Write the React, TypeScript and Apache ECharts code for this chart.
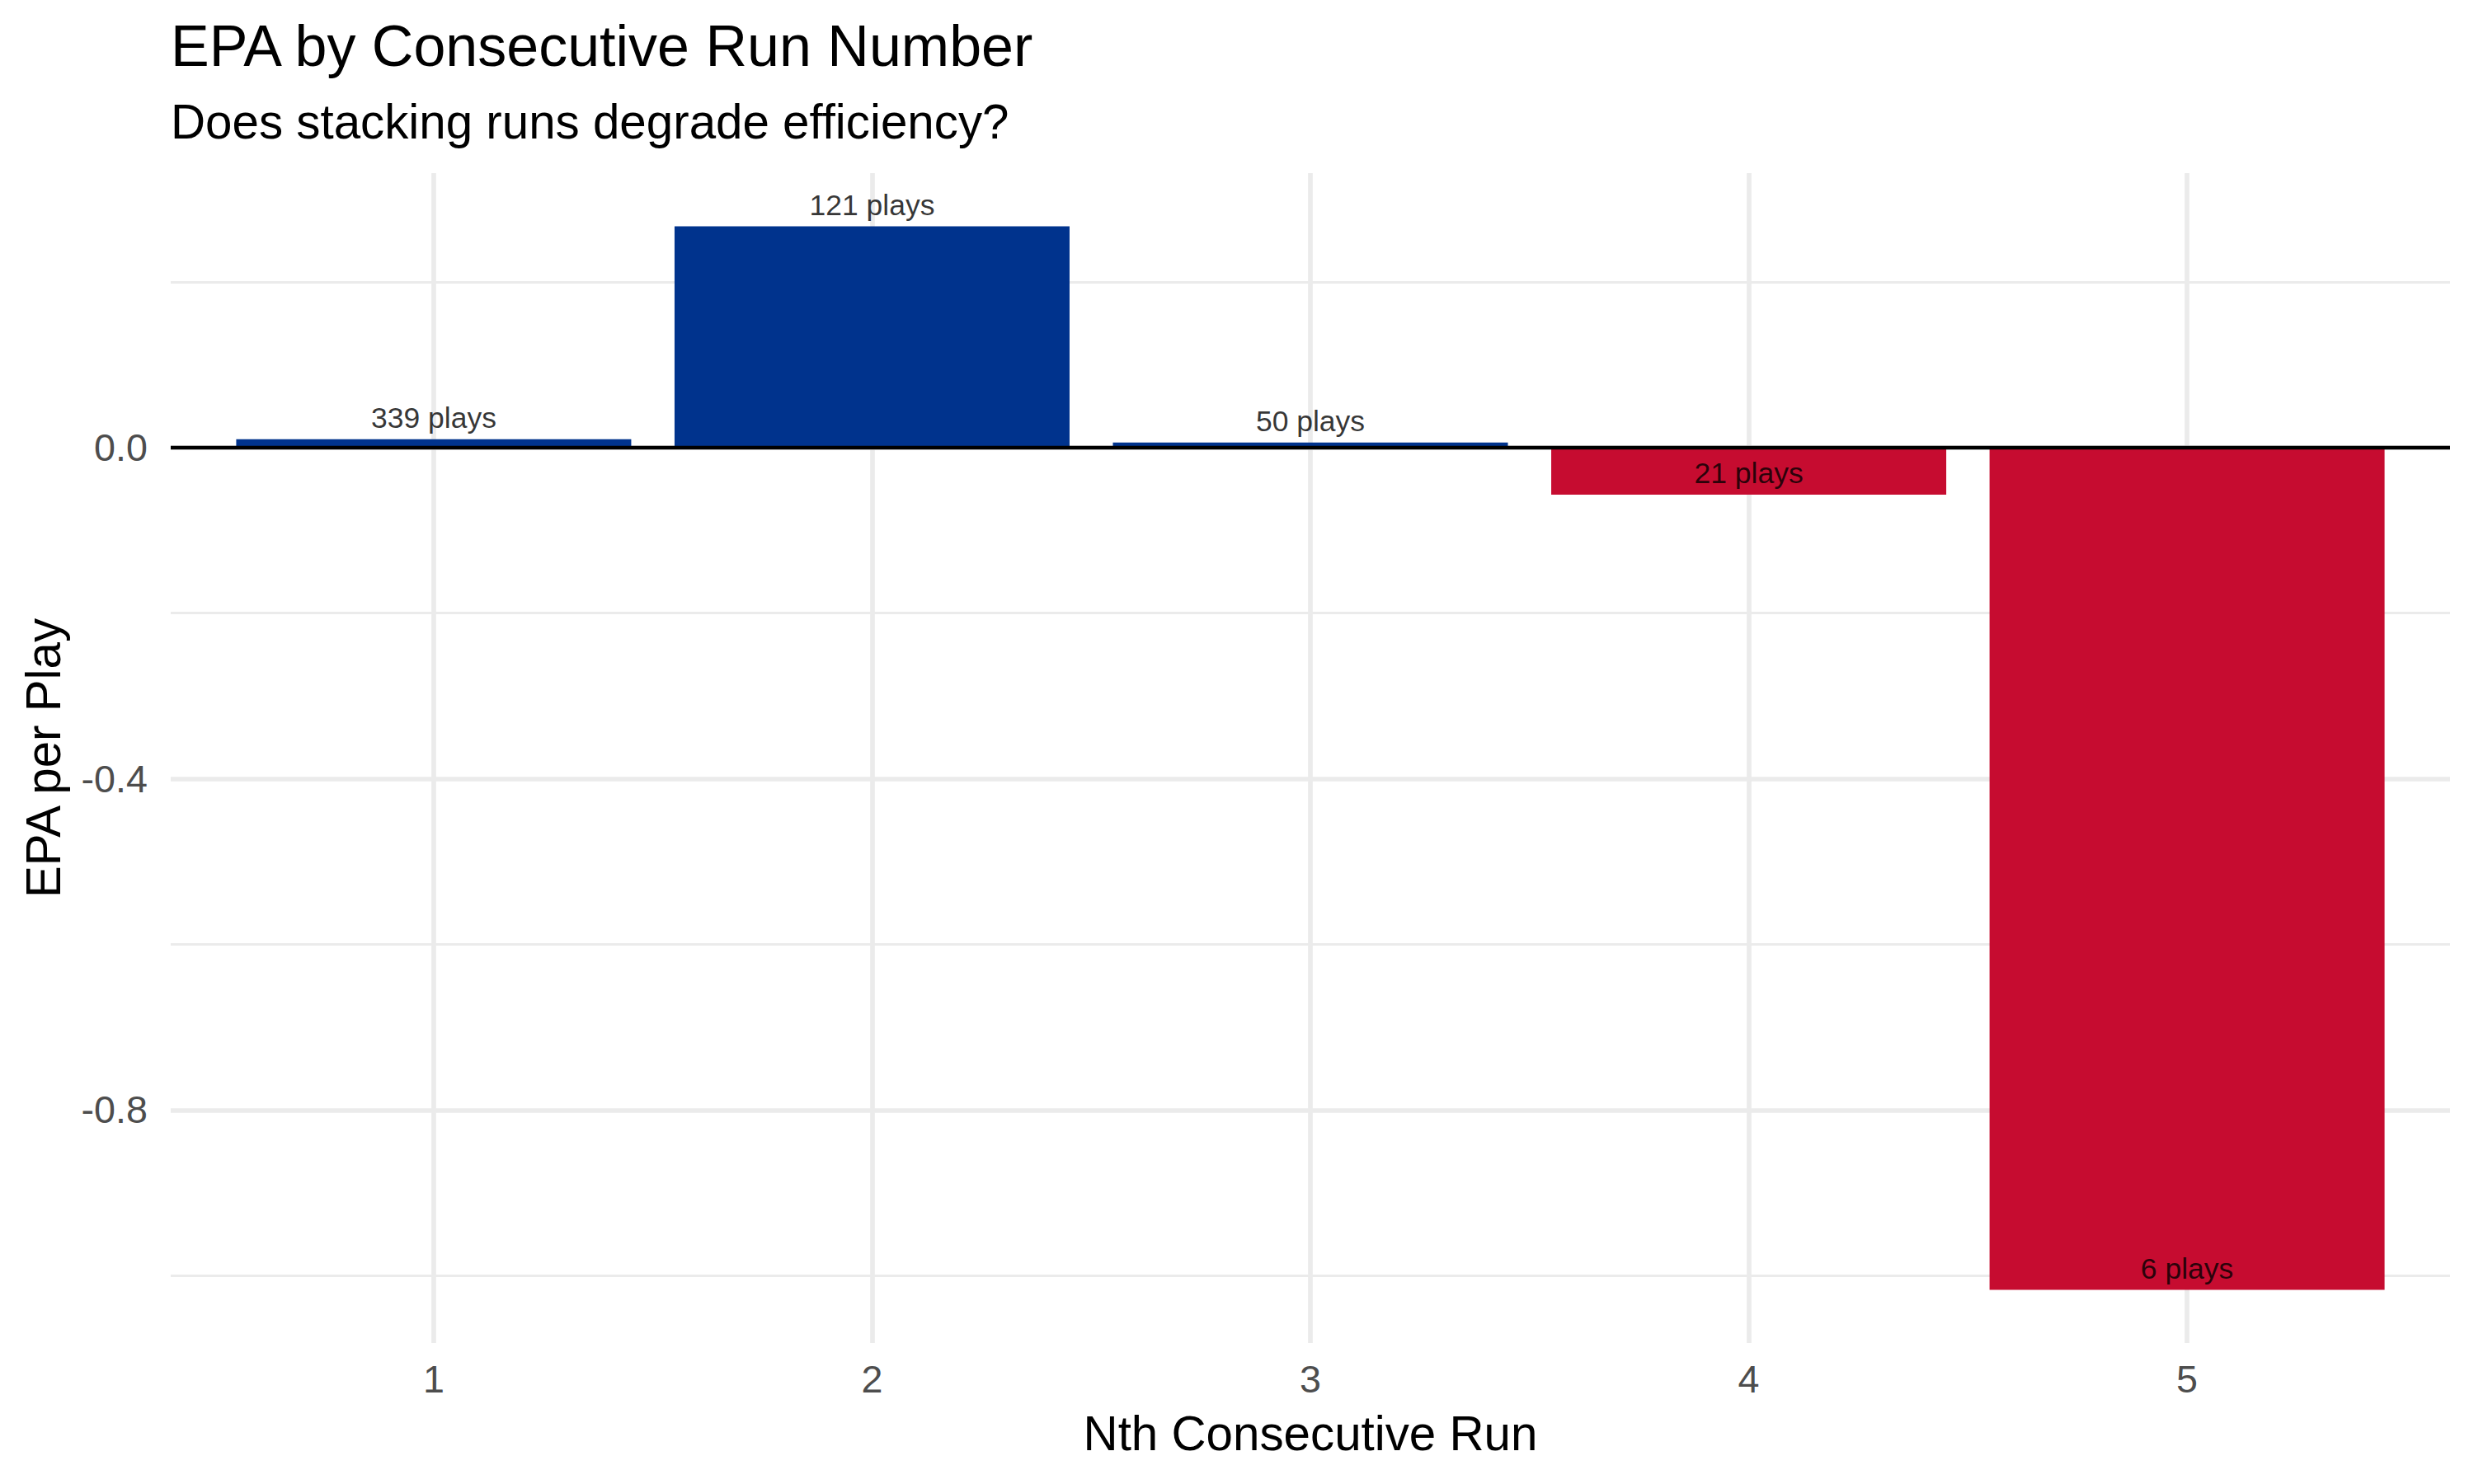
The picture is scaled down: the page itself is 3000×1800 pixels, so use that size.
import { useEffect, useRef } from 'react';
import * as echarts from 'echarts';

// Nth consecutive run, EPA per play, play counts
const runNumbers = [1, 2, 3, 4, 5];
const epaPerPlay = [0.010, 0.267, 0.006, -0.057, -1.017];
const playCounts = [339, 121, 50, 21, 6];
const yMajorTicks = [-0.8, -0.4, 0];
const yMinorTicks = [-1.0, -0.6, -0.2, 0.2];

const POS_COLOR = '#00338D';
const NEG_COLOR = '#C60C30';
const GRID_COLOR = '#EBEBEB';
const FONT = '"Liberation Sans", Arial, Helvetica, sans-serif';

export default function App() {
  const containerRef = useRef<HTMLDivElement>(null);

  useEffect(() => {
    if (!containerRef.current) return;
    const chart = echarts.init(containerRef.current, null, { renderer: 'svg' });

    // ggplot-style 5% expansion on continuous y, 0.6 on discrete x
    const lo = Math.min(0, ...epaPerPlay);
    const hi = Math.max(0, ...epaPerPlay);
    const pad = (hi - lo) * 0.05;
    const yMin = lo - pad;
    const yMax = hi + pad;

    const gridLeft = 207;
    const gridRight = 29;
    const gridTop = 210;
    const gridBottom = 171;
    const panelBottom = 1800 - gridBottom;
    const panelCx = (gridLeft + 3000 - gridRight) / 2;
    const panelCy = (gridTop + panelBottom) / 2;

    const option: echarts.EChartsOption = {
      backgroundColor: '#FFFFFF',
      animation: false,
      textStyle: { fontFamily: FONT },
      grid: { left: gridLeft, right: gridRight, top: gridTop, bottom: gridBottom, containLabel: false },
      xAxis: {
        type: 'value',
        min: 0.4,
        max: 5.6,
        axisLine: { show: false },
        axisTick: { show: false, customValues: runNumbers },
        axisLabel: {
          customValues: runNumbers,
          color: '#4D4D4D',
          fontSize: 46.7,
          fontFamily: FONT,
          margin: 20,
          formatter: (v: number) => String(v),
        },
        splitLine: { show: true, lineStyle: { color: GRID_COLOR, width: 5.7 } },
      },
      yAxis: [
        {
          type: 'value',
          min: yMin,
          max: yMax,
          axisLine: { show: false },
          axisTick: { show: false, customValues: yMajorTicks },
          axisLabel: {
            customValues: yMajorTicks,
            color: '#4D4D4D',
            fontSize: 46.7,
            fontFamily: FONT,
            margin: 28,
            formatter: (v: number) => v.toFixed(1),
          },
          splitLine: { show: true, lineStyle: { color: GRID_COLOR, width: 5.7 } },
        },
        {
          type: 'value',
          min: yMin,
          max: yMax,
          position: 'left',
          axisLine: { show: false },
          axisTick: { show: false, customValues: yMinorTicks },
          axisLabel: { show: false },
          splitLine: { show: true, lineStyle: { color: GRID_COLOR, width: 2.8 } },
        },
      ],
      graphic: [
        {
          type: 'text',
          x: gridLeft,
          y: 56,
          style: {
            text: 'EPA by Consecutive Run Number',
            fontSize: 70,
            fontFamily: FONT,
            fill: '#000000',
            align: 'left',
            verticalAlign: 'middle',
          },
        },
        {
          type: 'text',
          x: gridLeft,
          y: 147,
          style: {
            text: 'Does stacking runs degrade efficiency?',
            fontSize: 58.3,
            fontFamily: FONT,
            fill: '#000000',
            align: 'left',
            verticalAlign: 'middle',
          },
        },
        {
          type: 'text',
          x: panelCx,
          y: 1738,
          style: {
            text: 'Nth Consecutive Run',
            fontSize: 58.3,
            fontFamily: FONT,
            fill: '#000000',
            align: 'center',
            verticalAlign: 'middle',
          },
        },
        {
          type: 'text',
          x: 52,
          y: panelCy,
          rotation: Math.PI / 2,
          style: {
            text: 'EPA per Play',
            fontSize: 58.3,
            fontFamily: FONT,
            fill: '#000000',
            align: 'center',
            verticalAlign: 'middle',
          },
        },
      ],
      series: [
        {
          type: 'bar',
          xAxisIndex: 0,
          yAxisIndex: 0,
          barWidth: 479,
          data: runNumbers.map((n, i) => ({
            value: [n, epaPerPlay[i]],
            itemStyle: { color: epaPerPlay[i] >= 0 ? POS_COLOR : NEG_COLOR },
          })),
          markLine: {
            silent: true,
            symbol: ['none', 'none'],
            label: { show: false },
            lineStyle: { color: '#000000', width: 4.4, type: 'solid' },
            data: [{ yAxis: 0 }],
          },
        },
        {
          type: 'scatter',
          xAxisIndex: 0,
          yAxisIndex: 0,
          symbolSize: 0,
          silent: true,
          data: runNumbers.map((n, i) => [n, epaPerPlay[i], playCounts[i]]),
          label: {
            show: true,
            position: 'top',
            distance: 8,
            color: '#000000',
            fontSize: 35.5,
            fontFamily: FONT,
            formatter: (p: any) => `${p.value[2]} plays`,
          },
        },
      ],
    };

    chart.setOption(option, true);

    return () => {
      chart.dispose();
    };
  }, []);

  return (
    <div
      ref={containerRef}
      style={{ position: 'fixed', left: 0, top: 0, width: 3000, height: 1800, background: '#FFFFFF' }}
    />
  );
}
